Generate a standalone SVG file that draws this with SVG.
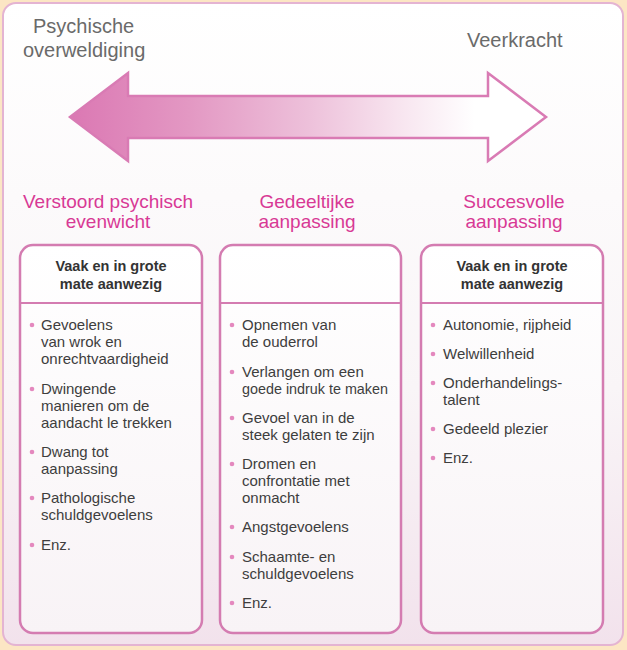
<svg xmlns="http://www.w3.org/2000/svg" width="627" height="650" viewBox="0 0 627 650">
<defs>
<linearGradient id="bg" x1="0" y1="0" x2="0" y2="1">
<stop offset="0" stop-color="#ffffff"/>
<stop offset="0.6" stop-color="#f9f5f7"/>
<stop offset="1" stop-color="#f2e2ec"/>
</linearGradient>
<linearGradient id="arrowFill" x1="70" y1="0" x2="546" y2="0" gradientUnits="userSpaceOnUse">
<stop offset="0" stop-color="#db78b3"/>
<stop offset="0.25" stop-color="#e398c3"/>
<stop offset="0.5" stop-color="#edc0da"/>
<stop offset="0.7" stop-color="#f8e6f0"/>
<stop offset="0.85" stop-color="#ffffff"/>
<stop offset="1" stop-color="#ffffff"/>
</linearGradient>
<linearGradient id="boxFill" x1="0" y1="0" x2="0" y2="1">
<stop offset="0" stop-color="#ffffff"/>
<stop offset="1" stop-color="#f8f3f6"/>
</linearGradient>
<style>
.lbl{font-family:"Liberation Sans",Arial,sans-serif;font-size:20px;fill:#6a6a6a}
.ttl{font-family:"Liberation Sans",Arial,sans-serif;font-size:19px;fill:#d83995;text-anchor:middle}
.hd{font-family:"Liberation Sans",Arial,sans-serif;font-size:14.5px;font-weight:bold;fill:#333333;text-anchor:middle}
.it{font-family:"Liberation Sans",Arial,sans-serif;font-size:15px;fill:#3e3e3e}
.box{fill:url(#boxFill);stroke:#d47cb1;stroke-width:2.5}
.div{stroke:#d47cb1;stroke-width:2}
.dot{fill:#e488be}
</style>
</defs>
<rect x="0" y="0" width="627" height="650" fill="#fce6c4"/>
<rect x="3" y="3" width="620" height="642" rx="13" fill="url(#bg)" stroke="#e4b4d2" stroke-width="2"/>

<g id="label-left">
<text class="lbl" x="33" y="33">Psychische</text>
<text class="lbl" x="23" y="57">overweldiging</text>
</g>
<g id="label-right">
<text class="lbl" x="467" y="47">Veerkracht</text>
</g>

<g id="connectors">
<polygon points="70,117 128,73 128,96 488,96 488,73 546,117 488,161 488,138 128,138 128,161" fill="url(#arrowFill)" stroke="#d97bb4" stroke-width="2.5" stroke-linejoin="miter"/>
</g>

<g id="col1">
<text class="ttl" x="108" y="208">Verstoord psychisch</text>
<text class="ttl" x="108" y="228">evenwicht</text>
<rect class="box" x="20" y="245" width="182" height="388" rx="13"/>
<line class="div" x1="21" y1="303" x2="201" y2="303"/>
<text class="hd" x="111" y="271">Vaak en in grote</text>
<text class="hd" x="111" y="289">mate aanwezig</text>
<circle class="dot" cx="32" cy="325" r="2.3"/>
<text class="it" x="41" y="330">Gevoelens</text>
<text class="it" x="41" y="347">van wrok en</text>
<text class="it" x="41" y="364">onrechtvaardigheid</text>
<circle class="dot" cx="32" cy="389" r="2.3"/>
<text class="it" x="41" y="394">Dwingende</text>
<text class="it" x="41" y="411">manieren om de</text>
<text class="it" x="41" y="428">aandacht le trekken</text>
<circle class="dot" cx="32" cy="452" r="2.3"/>
<text class="it" x="41" y="457">Dwang tot</text>
<text class="it" x="41" y="474">aanpassing</text>
<circle class="dot" cx="32" cy="498" r="2.3"/>
<text class="it" x="41" y="503">Pathologische</text>
<text class="it" x="41" y="520">schuldgevoelens</text>
<circle class="dot" cx="32" cy="545" r="2.3"/>
<text class="it" x="41" y="550">Enz.</text>
</g>

<g id="col2">
<text class="ttl" x="307" y="208">Gedeeltijke</text>
<text class="ttl" x="307" y="228">aanpassing</text>
<rect class="box" x="220" y="245" width="181" height="388" rx="13"/>
<line class="div" x1="221" y1="303" x2="400" y2="303"/>
<circle class="dot" cx="232" cy="325" r="2.3"/>
<text class="it" x="242" y="330">Opnemen van</text>
<text class="it" x="242" y="347">de ouderrol</text>
<circle class="dot" cx="232" cy="372" r="2.3"/>
<text class="it" x="242" y="377">Verlangen om een</text>
<text class="it" x="242" y="394" textLength="146" lengthAdjust="spacingAndGlyphs">goede indruk te maken</text>
<circle class="dot" cx="232" cy="418" r="2.3"/>
<text class="it" x="242" y="423">Gevoel van in de</text>
<text class="it" x="242" y="440">steek gelaten te zijn</text>
<circle class="dot" cx="232" cy="464" r="2.3"/>
<text class="it" x="242" y="469">Dromen en</text>
<text class="it" x="242" y="486">confrontatie met</text>
<text class="it" x="242" y="503">onmacht</text>
<circle class="dot" cx="232" cy="527" r="2.3"/>
<text class="it" x="242" y="532">Angstgevoelens</text>
<circle class="dot" cx="232" cy="557" r="2.3"/>
<text class="it" x="242" y="562">Schaamte- en</text>
<text class="it" x="242" y="579">schuldgevoelens</text>
<circle class="dot" cx="232" cy="603" r="2.3"/>
<text class="it" x="242" y="608">Enz.</text>
</g>

<g id="col3">
<text class="ttl" x="514" y="208">Succesvolle</text>
<text class="ttl" x="514" y="228">aanpassing</text>
<rect class="box" x="421" y="245" width="182" height="388" rx="13"/>
<line class="div" x1="422" y1="303" x2="602" y2="303"/>
<text class="hd" x="512" y="271">Vaak en in grote</text>
<text class="hd" x="512" y="289">mate aanwezig</text>
<circle class="dot" cx="433" cy="325" r="2.3"/>
<text class="it" x="443" y="330">Autonomie, rijpheid</text>
<circle class="dot" cx="433" cy="354" r="2.3"/>
<text class="it" x="443" y="359">Welwillenheid</text>
<circle class="dot" cx="433" cy="383" r="2.3"/>
<text class="it" x="443" y="388">Onderhandelings-</text>
<text class="it" x="443" y="405">talent</text>
<circle class="dot" cx="433" cy="429" r="2.3"/>
<text class="it" x="443" y="434">Gedeeld plezier</text>
<circle class="dot" cx="433" cy="458" r="2.3"/>
<text class="it" x="443" y="463">Enz.</text>
</g>
</svg>
